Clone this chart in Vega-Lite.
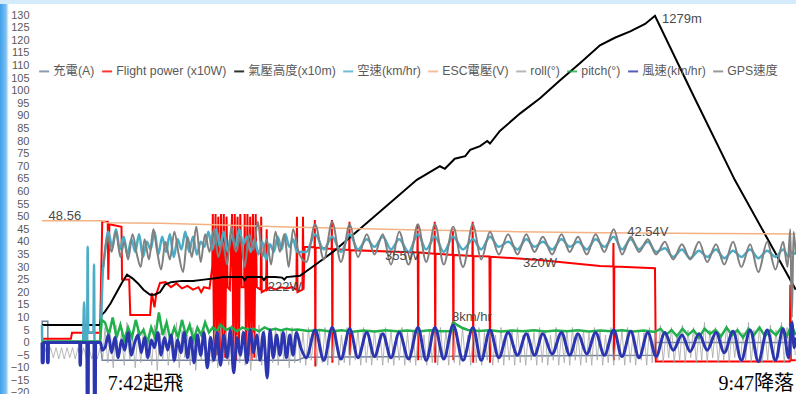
{
"$schema": "https://vega.github.io/schema/vega-lite/v6.json",
"width": 796, "height": 390,
"autosize": {"type": "none"},
"padding": {"top": 4, "left": 0, "right": 0, "bottom": 0},
"background": "#d4ebfb",
"config": {"view": {"stroke": null, "fill": {"gradient": "linear", "x1": 0, "y1": 0, "x2": 1, "y2": 0, "stops": [{"offset": 0, "color": "#3f9fea"}, {"offset": 0.0075, "color": "#7cc0f3"}, {"offset": 0.011, "color": "#ffffff"}, {"offset": 1, "color": "#ffffff"}]}}},
"datasets": {
"grid": [{"v":-20},{"v":-15},{"v":-10},{"v":-5},{"v":0},{"v":5},{"v":10},{"v":15},{"v":20},{"v":25},{"v":30},{"v":35},{"v":40},{"v":45},{"v":50},{"v":55},{"v":60},{"v":65},{"v":70},{"v":75},{"v":80},{"v":85},{"v":90},{"v":95},{"v":100},{"v":105},{"v":110},{"v":115},{"v":120},{"v":125},{"v":130}],
"charge": [{"t":-11.45,"v":-8},{"t":-11.42,"v":8.5},{"t":-10.4,"v":8.5},{"t":-10.37,"v":-8},{"t":-10.3,"v":0.5},{"t":-0.9,"v":0.5},{"t":-0.5,"v":-7},{"t":35,"v":-7},{"t":36.3,"v":-5.8},{"t":100,"v":-5},{"t":100.1,"v":0},{"t":125.6,"v":0}],
"power": [{"t":-11.45,"v":1.5},{"t":-6.2,"v":1.5},{"t":-6,"v":3.9},{"t":-0.9,"v":3.9},{"t":-0.5,"v":48},{"t":0.5,"v":48},{"t":0.6,"v":25},{"t":0.8,"v":47},{"t":3,"v":46},{"t":3.1,"v":25},{"t":4.4,"v":25},{"t":4.6,"v":11},{"t":8.2,"v":11},{"t":8.5,"v":19.7},{"t":9,"v":14},{"t":9.3,"v":19},{"t":10,"v":23.7},{"t":11,"v":24},{"t":12,"v":22},{"t":13,"v":23.5},{"t":14,"v":21.5},{"t":15,"v":22.5},{"t":16,"v":21},{"t":17,"v":22},{"t":17.5,"v":20},{"t":18,"v":22},{"t":19,"v":21.5},{"t":19.5,"v":30},{"t":19.6,"v":51},{"t":19.85,"v":-6},{"t":20.1,"v":51},{"t":20.35,"v":-5},{"t":20.6,"v":50},{"t":20.85,"v":-7},{"t":21.1,"v":51},{"t":21.35,"v":-4},{"t":21.6,"v":51},{"t":21.85,"v":-6},{"t":22.1,"v":50},{"t":22.3,"v":22},{"t":22.7,"v":21},{"t":23.1,"v":51},{"t":23.35,"v":-5},{"t":23.6,"v":51},{"t":23.85,"v":-7},{"t":24.1,"v":50},{"t":24.35,"v":-4},{"t":24.6,"v":51},{"t":24.85,"v":22},{"t":25.3,"v":22},{"t":25.4,"v":51},{"t":25.65,"v":-6},{"t":25.9,"v":51},{"t":26.15,"v":-5},{"t":26.4,"v":50},{"t":26.65,"v":-7},{"t":26.9,"v":51},{"t":27.15,"v":-6},{"t":27.4,"v":51},{"t":27.6,"v":22},{"t":28.3,"v":21},{"t":28.4,"v":50},{"t":28.5,"v":20},{"t":29.3,"v":21},{"t":29.4,"v":45},{"t":29.5,"v":21},{"t":30,"v":22},{"t":31,"v":21},{"t":32,"v":22},{"t":33,"v":21.5},{"t":34,"v":22},{"t":34.8,"v":21},{"t":34.9,"v":50},{"t":35,"v":20},{"t":35.9,"v":21},{"t":36,"v":50},{"t":36.1,"v":21},{"t":36.3,"v":38},{"t":38.1,"v":37.8},{"t":38.15,"v":48.7},{"t":38.25,"v":-9.5},{"t":38.3,"v":37.7},{"t":41.2,"v":37.2},{"t":41.25,"v":48.7},{"t":41.35,"v":-8},{"t":41.4,"v":37.1},{"t":44.4,"v":36.8},{"t":44.45,"v":48},{"t":44.55,"v":-5},{"t":44.6,"v":36.7},{"t":56.8,"v":35.8},{"t":56.85,"v":47},{"t":56.95,"v":-7},{"t":57,"v":35.8},{"t":59.9,"v":35.3},{"t":59.95,"v":48},{"t":60.05,"v":-8},{"t":60.1,"v":35.3},{"t":63.2,"v":34.8},{"t":63.25,"v":45},{"t":63.35,"v":-7},{"t":63.4,"v":34.8},{"t":66.8,"v":34.4},{"t":66.85,"v":48},{"t":66.95,"v":-8},{"t":67,"v":34.4},{"t":69.9,"v":34.2},{"t":70,"v":-8},{"t":70.1,"v":34.1},{"t":79,"v":32.8},{"t":90,"v":30.4},{"t":92.4,"v":30.2},{"t":92.45,"v":39.5},{"t":92.55,"v":-7},{"t":92.6,"v":30.2},{"t":100,"v":29.5},{"t":100.15,"v":-7.5},{"t":124.5,"v":-7.5},{"t":124.6,"v":23},{"t":124.7,"v":-7},{"t":125.6,"v":-7}],
"alt": [{"t":-11.45,"v":7},{"t":-0.9,"v":7},{"t":-0.6,"v":11},{"t":0,"v":12.3},{"t":1,"v":15.5},{"t":2,"v":19.5},{"t":3,"v":23.5},{"t":4,"v":27},{"t":5,"v":25.5},{"t":6,"v":23.5},{"t":7,"v":21},{"t":8.2,"v":19},{"t":9,"v":19},{"t":10,"v":20},{"t":10.9,"v":23},{"t":12,"v":24},{"t":14,"v":24.5},{"t":16,"v":24.5},{"t":18,"v":25},{"t":20,"v":25.5},{"t":21.5,"v":26},{"t":25,"v":26},{"t":25.4,"v":24.8},{"t":25.8,"v":26},{"t":28.5,"v":26},{"t":28.9,"v":24.8},{"t":29.3,"v":26},{"t":31,"v":26},{"t":32.2,"v":25.8},{"t":32.6,"v":25},{"t":33,"v":26},{"t":35.45,"v":26.5},{"t":38,"v":30.5},{"t":41.45,"v":36},{"t":47.6,"v":47.5},{"t":56.7,"v":64.6},{"t":60.9,"v":70},{"t":61.8,"v":69},{"t":63.6,"v":73},{"t":65.5,"v":74},{"t":66.4,"v":76.5},{"t":68.2,"v":78},{"t":69.5,"v":80},{"t":70,"v":79},{"t":71.8,"v":84},{"t":75.5,"v":91},{"t":79.1,"v":97},{"t":82.7,"v":104},{"t":86.4,"v":111},{"t":90,"v":118},{"t":92.7,"v":121},{"t":95.5,"v":123.5},{"t":98.2,"v":126.5},{"t":100,"v":129.7},{"t":107,"v":98},{"t":114.5,"v":64.6},{"t":125.6,"v":21}],
"air": [{"t":-11.45,"v":7},{"t":-11.42,"v":0},{"t":-4,"v":0},{"t":-3.8,"v":16},{"t":-3.6,"v":0},{"t":-3.25,"v":0},{"t":-3.15,"v":38},{"t":-3.05,"v":4},{"t":-2.1,"v":4},{"t":-2,"v":31},{"t":-1.9,"v":0},{"t":-0.9,"v":0},{"t":-0.4,"v":28},{"t":0,"v":36},{"t":0.6,"v":44},{"t":1.3,"v":38},{"t":2,"v":45},{"t":2.7,"v":37},{"t":3.4,"v":42},{"t":4.1,"v":35},{"t":4.8,"v":41},{"t":5.5,"v":36},{"t":6.2,"v":43},{"t":6.9,"v":34},{"t":7.6,"v":40},{"t":8.3,"v":37},{"t":9,"v":44},{"t":9.7,"v":35},{"t":10.4,"v":42},{"t":11.1,"v":36},{"t":11.8,"v":43},{"t":12.5,"v":34},{"t":13.2,"v":41},{"t":13.9,"v":37},{"t":14.6,"v":44},{"t":15.3,"v":36},{"t":16,"v":42},{"t":16.7,"v":35},{"t":17.4,"v":40},{"t":18.1,"v":38},{"t":18.8,"v":44},{"t":19.5,"v":37},{"t":20.2,"v":45},{"t":20.9,"v":38},{"t":21.6,"v":44},{"t":22.3,"v":36},{"t":23,"v":43},{"t":23.7,"v":38},{"t":24.4,"v":45},{"t":25.1,"v":39},{"t":25.8,"v":42},{"t":26.5,"v":36},{"t":27.2,"v":41},{"t":27.9,"v":35},{"t":28.6,"v":40},{"t":29.3,"v":33},{"t":30,"v":39},{"t":30.7,"v":36},{"t":31.4,"v":42},{"t":32.1,"v":37},{"t":32.8,"v":43},{"t":33.5,"v":38},{"t":34.2,"v":41},{"t":34.9,"v":36},{"t":36.6,"v":36},{"t":38.2,"v":43},{"t":39.8,"v":37},{"t":41.3,"v":42},{"t":42.9,"v":36},{"t":44.5,"v":43},{"t":46,"v":37},{"t":47.6,"v":41},{"t":49,"v":38},{"t":50.5,"v":42},{"t":52,"v":37},{"t":53.5,"v":41},{"t":55.2,"v":36},{"t":56.9,"v":43},{"t":58.4,"v":37},{"t":60,"v":42},{"t":61.6,"v":36},{"t":63.3,"v":42},{"t":65.1,"v":37},{"t":66.9,"v":41},{"t":68.4,"v":37},{"t":70,"v":42},{"t":71.6,"v":38},{"t":73.3,"v":40},{"t":75,"v":37},{"t":76.6,"v":41},{"t":78.1,"v":38},{"t":79.6,"v":40},{"t":81.3,"v":37},{"t":83,"v":41},{"t":84.5,"v":38},{"t":86,"v":40},{"t":87.6,"v":37},{"t":89.2,"v":41},{"t":90.8,"v":38},{"t":92.5,"v":42},{"t":94,"v":37},{"t":95.6,"v":41},{"t":97.1,"v":37},{"t":98.7,"v":40},{"t":100.2,"v":36},{"t":101.8,"v":37.5},{"t":103.3,"v":34},{"t":104.9,"v":37},{"t":106.4,"v":33.5},{"t":108,"v":36.5},{"t":109.5,"v":34},{"t":111.1,"v":37},{"t":112.6,"v":33.5},{"t":114.2,"v":36.5},{"t":115.7,"v":34},{"t":117.3,"v":37},{"t":118.8,"v":33.5},{"t":120.4,"v":36.5},{"t":121.9,"v":34},{"t":123.3,"v":37},{"t":124.3,"v":34},{"t":124.8,"v":36},{"t":125.6,"v":35}],
"esc": [{"t":-11.45,"v":48.4},{"t":-0.6,"v":48.4},{"t":0.3,"v":47.6},{"t":10,"v":47.4},{"t":20,"v":46.8},{"t":35,"v":45.8},{"t":55,"v":44.8},{"t":75,"v":44},{"t":90,"v":43.6},{"t":110,"v":43.3},{"t":125.6,"v":43.1}],
"roll": [{"t":-10.9,"v":-2},{"t":-10.4,"v":-6.5},{"t":-9.9,"v":-2},{"t":-9.4,"v":-6},{"t":-8.9,"v":-2},{"t":-8.4,"v":-6.5},{"t":-7.9,"v":-2},{"t":-7.4,"v":-6.5},{"t":-6.9,"v":-2},{"t":-6.4,"v":-6},{"t":-5.9,"v":-2},{"t":-5.4,"v":-6.5},{"t":-4.9,"v":-2},{"t":-4.4,"v":-6.5},{"t":-3.9,"v":-2},{"t":-3.4,"v":-6},{"t":-2.9,"v":-2},{"t":-2.4,"v":-6.5},{"t":-1.9,"v":-2},{"t":-1.4,"v":-6.5},{"t":-0.9,"v":-2},{"t":-0.4,"v":-6},
{"t":0,"v":6},{"t":0.5,"v":-8},{"t":1,"v":3},{"t":1.5,"v":-10},{"t":2,"v":7},{"t":2.5,"v":-6},{"t":3,"v":4},{"t":3.5,"v":-9},{"t":4,"v":8},{"t":4.5,"v":-7},{"t":5,"v":2},{"t":5.5,"v":-10},{"t":6,"v":5},{"t":6.5,"v":-8},{"t":7,"v":6},{"t":7.5,"v":-6},{"t":8,"v":3},{"t":8.5,"v":-9},{"t":9,"v":7},{"t":9.5,"v":-11},{"t":10,"v":4},{"t":10.5,"v":-7},{"t":11,"v":6},{"t":11.5,"v":-9},{"t":12,"v":2},{"t":12.5,"v":-8},{"t":13,"v":8},{"t":13.5,"v":-10},{"t":14,"v":5},{"t":14.5,"v":-6},{"t":15,"v":3},{"t":15.5,"v":-9},{"t":16,"v":6},{"t":16.5,"v":-11},{"t":17,"v":4},{"t":17.5,"v":-7},{"t":18,"v":7},{"t":18.5,"v":-9},{"t":19,"v":3},{"t":19.5,"v":-8},{"t":20,"v":5},{"t":20.5,"v":-10},{"t":21,"v":6},{"t":21.5,"v":-7},{"t":22,"v":4},{"t":22.5,"v":-9},{"t":23,"v":7},{"t":23.5,"v":-12},{"t":24,"v":3},{"t":24.5,"v":-8},{"t":25,"v":5},{"t":25.5,"v":-9},{"t":26,"v":6},{"t":26.5,"v":-11},{"t":27,"v":4},{"t":27.5,"v":-7},{"t":28,"v":7},{"t":28.5,"v":-9},{"t":29,"v":5},{"t":29.5,"v":-12},{"t":30,"v":3},{"t":30.5,"v":-8},{"t":31,"v":6},{"t":31.5,"v":-9},{"t":32,"v":4},{"t":32.5,"v":-7},{"t":33,"v":5},{"t":33.5,"v":-10},{"t":34,"v":6},{"t":34.5,"v":-8},
{"t":35,"v":5},{"t":35.5,"v":-8},{"t":36,"v":4},{"t":36.5,"v":-9},{"t":37,"v":6},{"t":37.5,"v":-7},{"t":38,"v":3},{"t":38.5,"v":-9},{"t":39,"v":5},{"t":39.5,"v":-8},{"t":40,"v":6},{"t":40.5,"v":-9},{"t":41,"v":4},{"t":41.5,"v":-7},{"t":42,"v":5},{"t":42.5,"v":-9},{"t":43,"v":3},{"t":43.5,"v":-8},{"t":44,"v":6},{"t":44.5,"v":-9},{"t":45,"v":4},{"t":45.5,"v":-7},{"t":46,"v":5},{"t":46.5,"v":-9},{"t":47,"v":6},{"t":47.5,"v":-8},{"t":48,"v":3},{"t":48.5,"v":-9},{"t":49,"v":5},{"t":49.5,"v":-7},{"t":50,"v":4},{"t":50.5,"v":-9},{"t":51,"v":6},{"t":51.5,"v":-8},{"t":52,"v":5},{"t":52.5,"v":-9},{"t":53,"v":3},{"t":53.5,"v":-7},{"t":54,"v":6},{"t":54.5,"v":-9},{"t":55,"v":4},{"t":55.5,"v":-8},{"t":56,"v":5},{"t":56.5,"v":-9},{"t":57,"v":6},{"t":57.5,"v":-7},{"t":58,"v":3},{"t":58.5,"v":-9},{"t":59,"v":5},{"t":59.5,"v":-8},{"t":60,"v":4},{"t":60.5,"v":-9},{"t":61,"v":6},{"t":61.5,"v":-7},{"t":62,"v":5},{"t":62.5,"v":-9},{"t":63,"v":8},{"t":63.5,"v":-8},{"t":64,"v":4},{"t":64.5,"v":-9},{"t":65,"v":6},{"t":65.5,"v":-7},{"t":66,"v":3},{"t":66.5,"v":-9},{"t":67,"v":5},{"t":67.5,"v":-8},{"t":68,"v":6},{"t":68.5,"v":-9},{"t":69,"v":4},{"t":69.5,"v":-7},{"t":70,"v":5},{"t":70.5,"v":-9},{"t":71,"v":3},{"t":71.5,"v":-8},{"t":72,"v":6},{"t":72.5,"v":-9},{"t":73,"v":4},{"t":73.5,"v":-7},{"t":74,"v":5},{"t":74.5,"v":-9},{"t":75,"v":6},{"t":75.5,"v":-8},{"t":76,"v":3},{"t":76.5,"v":-9},{"t":77,"v":5},{"t":77.5,"v":-7},{"t":78,"v":4},{"t":78.5,"v":-9},{"t":79,"v":6},{"t":79.5,"v":-8},{"t":80,"v":5},{"t":80.5,"v":-9},{"t":81,"v":3},{"t":81.5,"v":-7},{"t":82,"v":6},{"t":82.5,"v":-9},{"t":83,"v":4},{"t":83.5,"v":-8},{"t":84,"v":5},{"t":84.5,"v":-9},{"t":85,"v":6},{"t":85.5,"v":-7},{"t":86,"v":3},{"t":86.5,"v":-9},{"t":87,"v":5},{"t":87.5,"v":-8},{"t":88,"v":4},{"t":88.5,"v":-9},{"t":89,"v":6},{"t":89.5,"v":-7},{"t":90,"v":5},{"t":90.5,"v":-9},{"t":91,"v":3},{"t":91.5,"v":-8},{"t":92,"v":6},{"t":92.5,"v":-9},{"t":93,"v":4},{"t":93.5,"v":-7},{"t":94,"v":5},{"t":94.5,"v":-9},{"t":95,"v":6},{"t":95.5,"v":-8},{"t":96,"v":3},{"t":96.5,"v":-9},{"t":97,"v":5},{"t":97.5,"v":-7},{"t":98,"v":4},{"t":98.5,"v":-9},{"t":99,"v":6},{"t":99.5,"v":-8},
{"t":100,"v":5},{"t":100.5,"v":-7},{"t":101,"v":7},{"t":101.5,"v":-8},{"t":102,"v":4},{"t":102.5,"v":-6},{"t":103,"v":6},{"t":103.5,"v":-8},{"t":104,"v":3},{"t":104.5,"v":-7},{"t":105,"v":7},{"t":105.5,"v":-8},{"t":106,"v":5},{"t":106.5,"v":-6},{"t":107,"v":6},{"t":107.5,"v":-8},{"t":108,"v":4},{"t":108.5,"v":-7},{"t":109,"v":8},{"t":109.5,"v":-8},{"t":110,"v":5},{"t":110.5,"v":-6},{"t":111,"v":6},{"t":111.5,"v":-8},{"t":112,"v":3},{"t":112.5,"v":-7},{"t":113,"v":7},{"t":113.5,"v":-8},{"t":114,"v":5},{"t":114.5,"v":-6},{"t":115,"v":6},{"t":115.5,"v":-8},{"t":116,"v":4},{"t":116.5,"v":-7},{"t":117,"v":8},{"t":117.5,"v":-8},{"t":118,"v":5},{"t":118.5,"v":-6},{"t":119,"v":6},{"t":119.5,"v":-8},{"t":120,"v":4},{"t":120.5,"v":-7},{"t":121,"v":7},{"t":121.5,"v":-8},{"t":122,"v":5},{"t":122.5,"v":-6},{"t":123,"v":8},{"t":123.5,"v":-8},{"t":124,"v":6},{"t":124.5,"v":-7},{"t":125,"v":9},{"t":125.5,"v":-5}],
"pitch": [{"t":-11.45,"v":0.4},{"t":-0.9,"v":0.4},{"t":-0.6,"v":9},{"t":0,"v":8},{"t":0.7,"v":3},{"t":1.4,"v":10},{"t":2.1,"v":2},{"t":2.8,"v":7},{"t":3.5,"v":1},{"t":4.2,"v":6},{"t":4.9,"v":2},{"t":5.6,"v":9},{"t":6.3,"v":3},{"t":7,"v":5},{"t":7.7,"v":0},{"t":8.4,"v":6},{"t":9.1,"v":2},{"t":9.8,"v":12},{"t":10.5,"v":3},{"t":11.2,"v":8},{"t":11.9,"v":1},{"t":12.6,"v":6},{"t":13.3,"v":2},{"t":14,"v":9},{"t":14.7,"v":3},{"t":15.4,"v":7},{"t":16.1,"v":1},{"t":16.8,"v":6},{"t":17.5,"v":3},{"t":18.2,"v":8},{"t":18.9,"v":4},{"t":19.6,"v":6},{"t":20.3,"v":4.5},{"t":21,"v":7},{"t":22,"v":5},{"t":23,"v":6},{"t":24,"v":4.5},{"t":25,"v":6},{"t":26,"v":5},{"t":27,"v":5.5},{"t":28,"v":4.5},{"t":29,"v":6},{"t":30,"v":5},{"t":31,"v":5.5},{"t":32,"v":4.8},{"t":33,"v":5.5},{"t":34,"v":5},{"t":35,"v":5.2},{"t":37,"v":4.6},{"t":39,"v":5},{"t":41,"v":4.4},{"t":43,"v":4.9},{"t":45,"v":4.3},{"t":47,"v":4.8},{"t":49,"v":4.4},{"t":51,"v":4.9},{"t":53,"v":4.5},{"t":55,"v":4.8},{"t":57,"v":4.4},{"t":59,"v":4.9},{"t":61,"v":4.5},{"t":63,"v":4.6},{"t":63.4,"v":8},{"t":64,"v":7},{"t":65,"v":5.8},{"t":66,"v":5},{"t":68,"v":4.6},{"t":70,"v":4.9},{"t":72,"v":4.4},{"t":74,"v":4.8},{"t":76,"v":4.5},{"t":78,"v":4.9},{"t":80,"v":4.4},{"t":82,"v":4.8},{"t":84,"v":4.5},{"t":86,"v":4.9},{"t":88,"v":4.4},{"t":90,"v":4.8},{"t":92,"v":4.5},{"t":94,"v":4.9},{"t":96,"v":4.4},{"t":98,"v":4.8},{"t":100,"v":4.2},{"t":101,"v":5.5},{"t":102,"v":3},{"t":103,"v":5},{"t":104,"v":2.5},{"t":105,"v":5.5},{"t":106,"v":3},{"t":107,"v":5},{"t":108,"v":2},{"t":109,"v":5.5},{"t":110,"v":3.5},{"t":111,"v":5},{"t":112,"v":2.5},{"t":113,"v":6},{"t":114,"v":3},{"t":115,"v":5},{"t":116,"v":2},{"t":117,"v":5.5},{"t":118,"v":3},{"t":119,"v":6},{"t":120,"v":2.5},{"t":121,"v":5},{"t":122,"v":3},{"t":123,"v":6},{"t":124,"v":2.5},{"t":124.8,"v":7},{"t":125.6,"v":3}],
"wind": [{"t":-11.45,"v":0},{"t":-11.43,"v":-8},{"t":-11.2,"v":-8},{"t":-11.18,"v":0},{"t":-10.5,"v":0},{"t":-10.48,"v":-8},{"t":-10.3,"v":-8},{"t":-10.28,"v":0},{"t":-4.6,"v":0},{"t":-4.55,"v":-9},{"t":-4.45,"v":-9},{"t":-4.4,"v":0},{"t":-3.3,"v":0},{"t":-3.25,"v":-21},{"t":-3.05,"v":-21},{"t":-3,"v":0},{"t":-2,"v":0},{"t":-1.95,"v":-21},{"t":-1.75,"v":-21},{"t":-1.7,"v":0},{"t":-0.8,"v":0},{"t":-0.5,"v":-3},{"t":0,"v":-2},{"t":0.6,"v":3},{"t":1.2,"v":-4},{"t":1.8,"v":2},{"t":2.4,"v":-6},{"t":3,"v":1},{"t":3.6,"v":-3},{"t":4.2,"v":4},{"t":4.8,"v":-5},{"t":5.4,"v":0},{"t":6,"v":3},{"t":6.6,"v":-4},{"t":7.2,"v":2},{"t":7.8,"v":-6},{"t":8.4,"v":1},{"t":9,"v":-2},{"t":9.6,"v":4},{"t":10.2,"v":-5},{"t":10.8,"v":2},{"t":11.4,"v":-3},{"t":12,"v":3},{"t":12.6,"v":-7},{"t":13.2,"v":1},{"t":13.8,"v":-4},{"t":14.4,"v":4},{"t":15,"v":-6},{"t":15.6,"v":2},{"t":16.2,"v":-8},{"t":16.8,"v":3},{"t":17.4,"v":-5},{"t":18,"v":4},{"t":18.6,"v":-10},{"t":19.2,"v":2},{"t":19.8,"v":-7},{"t":20.4,"v":4},{"t":21,"v":-9},{"t":21.6,"v":3},{"t":22.2,"v":-6},{"t":22.8,"v":5},{"t":23.4,"v":-12},{"t":24,"v":2},{"t":24.6,"v":-5},{"t":25.2,"v":4},{"t":25.8,"v":-8},{"t":26.4,"v":5},{"t":27,"v":-4},{"t":27.6,"v":3},{"t":28.2,"v":-7},{"t":28.8,"v":4},{"t":29.5,"v":-14},{"t":30,"v":5},{"t":30.6,"v":-6},{"t":31.2,"v":3},{"t":31.8,"v":-5},{"t":32.4,"v":4},{"t":33,"v":-6},{"t":33.6,"v":3},{"t":34.2,"v":-5},{"t":34.8,"v":4},{"t":35.6,"v":-2},{"t":36.6,"v":-6},{"t":38.2,"v":5},{"t":39.8,"v":-7},{"t":41.3,"v":6},{"t":42.9,"v":-6.5},{"t":44.5,"v":5.5},{"t":46,"v":-6},{"t":47.6,"v":4},{"t":49,"v":-5.5},{"t":50.5,"v":3.5},{"t":52,"v":-6},{"t":53.5,"v":4},{"t":55.2,"v":-6.5},{"t":56.9,"v":6},{"t":58.4,"v":-7},{"t":60,"v":6},{"t":61.6,"v":-6.5},{"t":63.3,"v":7},{"t":65.1,"v":-7},{"t":66.9,"v":6},{"t":68.4,"v":-7},{"t":70,"v":5},{"t":71.6,"v":-6},{"t":73.3,"v":4},{"t":75,"v":-5},{"t":76.6,"v":3.5},{"t":78.1,"v":-5},{"t":79.6,"v":3.5},{"t":81.3,"v":-4.5},{"t":83,"v":4},{"t":84.5,"v":-5},{"t":86,"v":3.5},{"t":87.6,"v":-4.5},{"t":89.2,"v":4},{"t":90.8,"v":-5},{"t":92.5,"v":5},{"t":94,"v":-5.5},{"t":95.6,"v":4.5},{"t":97.1,"v":-6},{"t":98.7,"v":4},{"t":100.2,"v":-5.5},{"t":101.8,"v":4},{"t":103.3,"v":-3},{"t":104.9,"v":3},{"t":106.4,"v":-3.5},{"t":108,"v":3.5},{"t":109.5,"v":-3},{"t":111.1,"v":4},{"t":112.6,"v":-4},{"t":114.2,"v":4.5},{"t":115.7,"v":-7},{"t":117.3,"v":5},{"t":118.8,"v":-7.5},{"t":120.4,"v":5},{"t":121.9,"v":-7},{"t":123.3,"v":5.5},{"t":124.3,"v":-6},{"t":124.9,"v":8},{"t":125.3,"v":-2},{"t":125.6,"v":2}],
"gps": [{"t":-0.3,"v":30},{"t":0.5,"v":42},{"t":1.2,"v":36},{"t":2,"v":44},{"t":2.8,"v":34},{"t":3.5,"v":40},{"t":4.2,"v":33},{"t":5,"v":43},{"t":5.8,"v":35},{"t":6.5,"v":30},{"t":7.2,"v":41},{"t":8,"v":33},{"t":8.8,"v":45},{"t":9.5,"v":36},{"t":10.2,"v":29},{"t":11,"v":40},{"t":11.8,"v":33},{"t":12.6,"v":44},{"t":13.4,"v":35},{"t":14.2,"v":28},{"t":15,"v":42},{"t":15.8,"v":34},{"t":16.6,"v":46},{"t":17.4,"v":32},{"t":18.2,"v":43},{"t":19,"v":36},{"t":19.8,"v":45},{"t":20.6,"v":34},{"t":21.4,"v":40},{"t":22.2,"v":31},{"t":23,"v":46},{"t":23.8,"v":36},{"t":24.6,"v":42},{"t":25.4,"v":30},{"t":26.2,"v":43},{"t":27,"v":37},{"t":27.8,"v":48},{"t":28.6,"v":34},{"t":29.4,"v":41},{"t":30.2,"v":31},{"t":31,"v":44},{"t":31.8,"v":36},{"t":32.6,"v":43},{"t":33.4,"v":30},{"t":34.2,"v":45},{"t":35.2,"v":36},{"t":36.6,"v":32},{"t":38.2,"v":47},{"t":39.8,"v":33},{"t":41.3,"v":48},{"t":42.9,"v":32},{"t":44.5,"v":47},{"t":46,"v":34},{"t":47.6,"v":43},{"t":49,"v":35},{"t":50.5,"v":43},{"t":52,"v":31},{"t":53.5,"v":44},{"t":55.2,"v":31},{"t":56.9,"v":47},{"t":58.4,"v":32},{"t":60,"v":47},{"t":61.6,"v":31},{"t":63.3,"v":46},{"t":65.1,"v":30},{"t":66.9,"v":47},{"t":68.4,"v":33},{"t":70,"v":44},{"t":71.6,"v":35},{"t":73.3,"v":43},{"t":75,"v":35},{"t":76.6,"v":43},{"t":78.1,"v":36},{"t":79.6,"v":42},{"t":81.3,"v":35},{"t":83,"v":43},{"t":84.5,"v":36},{"t":86,"v":42},{"t":87.6,"v":35},{"t":89.2,"v":43},{"t":90.8,"v":36},{"t":92.5,"v":45},{"t":94,"v":35},{"t":95.6,"v":42},{"t":97.1,"v":36},{"t":98.7,"v":41},{"t":100.2,"v":35},{"t":101.8,"v":40},{"t":103.3,"v":33},{"t":104.9,"v":39},{"t":106.4,"v":33},{"t":108,"v":40},{"t":109.5,"v":32},{"t":111.1,"v":39},{"t":112.6,"v":31},{"t":114.2,"v":40},{"t":115.7,"v":30},{"t":117.3,"v":39},{"t":118.8,"v":28},{"t":120.4,"v":40},{"t":121.9,"v":29},{"t":123.3,"v":40},{"t":124.1,"v":30},{"t":124.6,"v":45},{"t":124.9,"v":10},{"t":125.2,"v":44},{"t":125.6,"v":35}],
"notes": [{"t":-7.3,"v":50.3,"label":"48.56"},{"t":104.9,"v":128.5,"label":"1279m"},{"t":98.7,"v":43.8,"label":"42.54V"},{"t":54,"v":34.4,"label":"355W"},{"t":79.1,"v":31.6,"label":"320W"},{"t":32.7,"v":22.1,"label":"222W"},{"t":66.7,"v":10.2,"label":"8km/hr"}],
"start": [{"t":0.5,"v":-19,"label":"7:42起飛"}],
"end": [{"t":125.3,"v":-19,"label":"9:47降落"}]
},
"encoding": {
"x": {"field": "t", "type": "quantitative", "scale": {"domain": [-19.09, 125.64], "nice": false, "zero": false}, "axis": null},
"y": {"field": "v", "type": "quantitative", "scale": {"domain": [-20.4, 134.4], "nice": false, "zero": false}, "axis": {"values": [-20,-15,-10,-5,0,5,10,15,20,25,30,35,40,45,50,55,60,65,70,75,80,85,90,95,100,105,110,115,120,125,130], "offset": -31, "labelPadding": 2, "domain": false, "ticks": false, "grid": false, "labelColor": "#595959", "labelFontSize": 11, "labelFont": "Liberation Sans", "title": null, "labelOverlap": false, "labelFlush": false}}
},
"layer": [
{"data": {"name": "grid"}, "mark": {"type": "rule", "color": "#dcdcdc", "strokeWidth": 1}, "encoding": {"x": {"datum": -11.8, "type": "quantitative", "axis": null}, "x2": {"datum": 125.64}}},
{"data": {"name": "charge"}, "mark": {"type": "line", "strokeWidth": 1.5, "clip": true}, "encoding": {"color": {"datum": "充電(A)", "type": "nominal", "scale": {"domain": ["充電(A)", "Flight power (x10W)", "氣壓高度(x10m)", "空速(km/hr)", "ESC電壓(V)", "roll(°)", "pitch(°)", "風速(km/hr)", "GPS速度"], "range": ["#71829f", "#ff0000", "#000000", "#4bacc6", "#f4b183", "#a6a6a6", "#21b04b", "#2b35af", "#808080"]}, "legend": {"orient": "none", "legendX": 38, "legendY": 61, "direction": "horizontal", "columns": 9, "symbolType": "stroke", "symbolSize": 100, "symbolStrokeWidth": 2, "labelFontSize": 12.3, "labelFont": "Liberation Sans, Noto Sans CJK TC", "labelColor": "#595959", "columnPadding": 3, "labelOffset": 3, "title": null, "labelLimit": 400, "padding": 0}}}},
{"data": {"name": "power"}, "mark": {"type": "line", "strokeWidth": 2, "clip": true}, "encoding": {"color": {"datum": "Flight power (x10W)", "type": "nominal"}}},
{"data": {"name": "alt"}, "mark": {"type": "line", "strokeWidth": 2, "clip": true}, "encoding": {"color": {"datum": "氣壓高度(x10m)", "type": "nominal"}}},
{"data": {"name": "air"}, "mark": {"type": "line", "strokeWidth": 2.5, "clip": true, "interpolate": "monotone"}, "encoding": {"color": {"datum": "空速(km/hr)", "type": "nominal"}}},
{"data": {"name": "esc"}, "mark": {"type": "line", "strokeWidth": 1.5, "clip": true}, "encoding": {"color": {"datum": "ESC電壓(V)", "type": "nominal"}}},
{"data": {"name": "roll"}, "mark": {"type": "line", "strokeWidth": 1, "clip": true, "opacity": 0.8}, "encoding": {"color": {"datum": "roll(°)", "type": "nominal"}}},
{"data": {"name": "pitch"}, "mark": {"type": "line", "strokeWidth": 2.5, "clip": true}, "encoding": {"color": {"datum": "pitch(°)", "type": "nominal"}}},
{"data": {"name": "wind"}, "mark": {"type": "line", "strokeWidth": 3, "clip": true, "interpolate": "monotone"}, "encoding": {"color": {"datum": "風速(km/hr)", "type": "nominal"}}},
{"data": {"name": "gps"}, "mark": {"type": "line", "strokeWidth": 2, "clip": true, "interpolate": "monotone"}, "encoding": {"color": {"datum": "GPS速度", "type": "nominal"}}},
{"data": {"name": "notes"}, "mark": {"type": "text", "fontSize": 13, "font": "Liberation Sans", "color": "#4a4a4a", "align": "center", "baseline": "middle"}, "encoding": {"text": {"field": "label"}}},
{"data": {"name": "start"}, "mark": {"type": "text", "fontSize": 20, "font": "Liberation Serif, Noto Sans CJK TC", "color": "#000000", "align": "left", "baseline": "alphabetic"}, "encoding": {"text": {"field": "label"}}},
{"data": {"name": "end"}, "mark": {"type": "text", "fontSize": 20, "font": "Liberation Serif, Noto Sans CJK TC", "color": "#000000", "align": "right", "baseline": "alphabetic"}, "encoding": {"text": {"field": "label"}}}
]
}
